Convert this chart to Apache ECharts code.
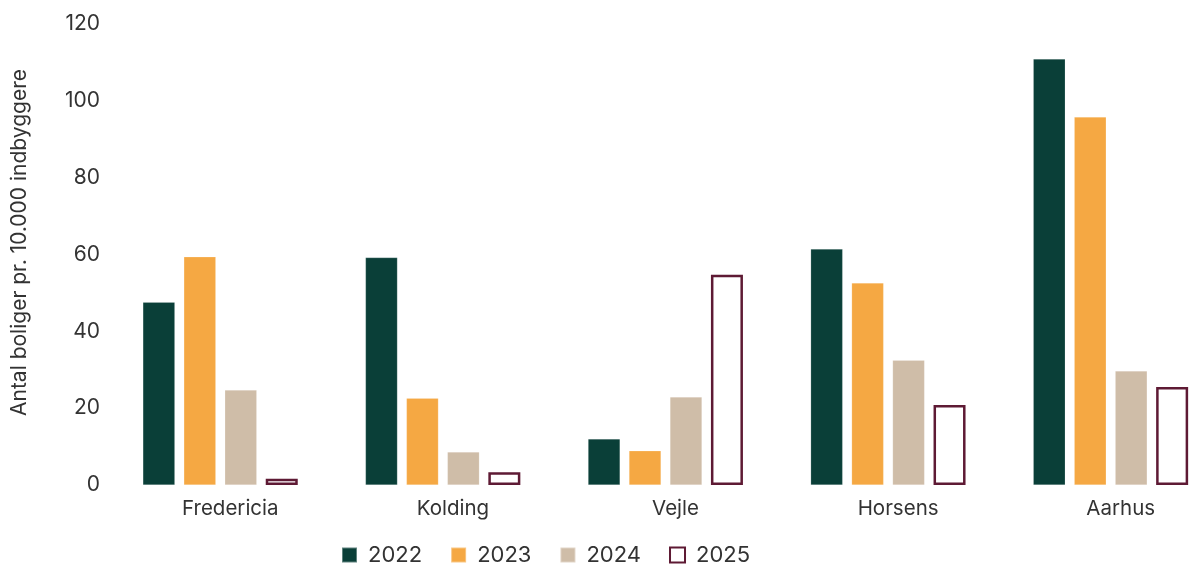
<!DOCTYPE html>
<html>
<head>
<meta charset="utf-8">
<script src="https://cdn.jsdelivr.net/npm/echarts@6/dist/echarts.min.js"></script>
<style>
html,body{margin:0;padding:0;background:#fff;}
#chart{width:1194px;height:565px;}
</style>
</head>
<body>
<div id="chart"></div>
<script>
var kommuner = ['Fredericia', 'Kolding', 'Vejle', 'Horsens', 'Aarhus'];
var aar = ['2022', '2023', '2024', '2025'];
var v2022 = [47.6, 59.2, 12.0, 61.4, 110.9];
var v2023 = [59.4, 22.6, 8.9, 52.6, 95.8];
var v2024 = [24.7, 8.6, 22.9, 32.5, 29.7];
var v2025 = [1.6, 3.3, 54.7, 20.8, 25.5];
var yTicks = [0, 20, 40, 60, 80, 100, 120];

var farver = ['#0a3f38', '#f5a843', '#cfbda8', '#5e1a34'];
var fnt = 'Inter, "Noto Sans", sans-serif';

function bar(navn, data, farve, tom){
	return {
		name: navn,
		type: 'bar',
		data: data,
		barWidth: 32,
		barGap: '28%',
		itemStyle: tom ? {color: '#ffffff', borderColor: farve, borderWidth: 2.5}
		               : {color: farve, borderColor: 'rgba(255,255,255,0.35)', borderWidth: 0.5}
	};
}

var myChart = echarts.init(document.getElementById('chart'));
var option = {
	animation: false,
	textStyle: {fontFamily: fnt},
	grid: {left: 109, width: 1113, top: 24, bottom: 80, containLabel: false, outerBoundsMode: 'none'},
	legend: {
		top: 539,
		left: 336,
		itemWidth: 15,
		itemHeight: 15,
		itemGap: 28,
		icon: 'rect',
		textStyle: {fontSize: 22, color: '#333', fontFamily: fnt, padding: [0, 0, 0, 6]},
		data: aar
	},
	xAxis: {
		type: 'category',
		data: kommuner,
		axisLine: {show: false},
		axisTick: {show: false},
		// etiketterne sidder lidt til højre for søjlegruppen i originalen
		axisLabel: {fontSize: 20.5, color: '#333', margin: 13, fontFamily: fnt, padding: [0, 0, 0, 20]}
	},
	yAxis: {
		type: 'value',
		min: 0,
		max: 120,
		interval: 20,
		name: 'Antal boliger pr. 10.000 indbyggere',
		nameLocation: 'middle',
		nameRotate: 90,
		nameGap: 79,
		nameTextStyle: {fontSize: 21, color: '#333', fontFamily: fnt, padding: [0, 0, 0, 24]},
		splitLine: {show: false},
		axisLine: {show: false},
		axisTick: {show: false},
		axisLabel: {
			fontSize: 21, color: '#333', margin: 9, fontFamily: fnt,
			formatter: function(v){ return yTicks.indexOf(v) >= 0 ? String(v) : ''; }
		}
	},
	series: [
		bar(aar[0], v2022, farver[0]),
		bar(aar[1], v2023, farver[1]),
		bar(aar[2], v2024, farver[2]),
		bar(aar[3], v2025, farver[3], true)
	]
};
myChart.setOption(option);
</script>
</body>
</html>
